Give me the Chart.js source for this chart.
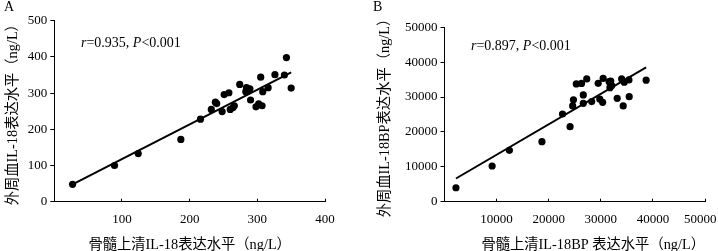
<!DOCTYPE html>
<html>
<head>
<meta charset="utf-8">
<script src="https://cdn.jsdelivr.net/npm/chart.js@4.4.1/dist/chart.umd.min.js"></script>
<style>
  html, body { margin: 0; padding: 0; background: #fff; }
  #wrap { position: relative; width: 718px; height: 251px; }
  #wrap canvas { position: absolute; top: 0; }
</style>
</head>
<body>
<div id="wrap">
  <canvas id="chartA" width="359" height="251" style="left:0"></canvas>
  <canvas id="chartB" width="359" height="251" style="left:359px"></canvas>
</div>
<script>
// panel A : IL-18 (ng/L)
var xA = [27, 89, 124, 187, 216, 232, 238, 240, 248, 251, 258, 260, 264, 266, 274,
          284, 286, 289, 283, 290, 298, 302, 307, 305, 308, 316, 326, 340, 343, 350];
var yA = [48, 100, 133, 172, 228, 255, 275, 271, 249, 296, 301, 255, 260, 265, 324,
          315, 308, 312, 304, 281, 262, 270, 265, 344, 304, 315, 351, 350, 398, 314];

// panel B : IL-18BP (ng/L)
var xB = [2200, 9140, 12450, 18700, 22650, 24100, 24600, 24750, 25300, 26300, 27300,
          26640, 26640, 28250, 29500, 29800, 30350, 30450, 31600, 31900, 31750, 32100,
          33150, 34000, 34500, 34300, 35400, 35450, 38700];
var yB = [4000, 10230, 14720, 17200, 25150, 21510, 27450, 29200, 33760, 33900, 35200,
          30600, 28200, 28700, 33950, 29450, 28500, 35350, 34400, 34600, 32700, 33300,
          29650, 35200, 34250, 27450, 34900, 30100, 34850];

// axis ticks
var xTicksA = [0, 100, 200, 300, 400];
var yTicksA = [0, 100, 200, 300, 400, 500];
var xTicksB = [0, 10000, 20000, 30000, 40000, 50000];
var yTicksB = [0, 10000, 20000, 30000, 40000, 50000];

var labelsA = ['A', 'r', '=0.935, ', 'P', '<0.001'];
var labelsB = ['B', 'r', '=0.897, ', 'P', '<0.001'];

var titleAx = '骨髓上清IL-18表达水平（ng/L）';
var titleAy = '外周血IL-18表达水平（ng/L）';
var titleBx = '骨髓上清IL-18BP 表达水平（ng/L）';
var titleBy = '外周血IL-18BP表达水平（ng/L）';

var FAMILY = '"Liberation Serif", "Times New Roman", "Noto Sans CJK SC", serif';
var tickFont = { family: FAMILY, size: 13 };
var titleFont = { family: FAMILY, size: 14.3 };

// least squares line spanning the data range
function fitLine(xs, ys) {
    var n = xs.length, sx = 0, sy = 0, sxx = 0, sxy = 0;
    for (var i = 0; i < n; i++) {
        sx += xs[i]; sy += ys[i]; sxx += xs[i] * xs[i]; sxy += xs[i] * ys[i];
    }
    var b = (n * sxy - sx * sy) / (n * sxx - sx * sx);
    var a = (sy - b * sx) / n;
    var lo = Math.min.apply(null, xs), hi = Math.max.apply(null, xs);
    return [{ x: lo, y: a + b * lo }, { x: hi, y: a + b * hi }];
}

function toPoints(xs, ys) {
    return xs.map(function (x, i) { return { x: x, y: ys[i] }; });
}

// panel letter + r / P annotation
var notes = {
    id: 'notes',
    afterDraw: function (chart, args, opts) {
        var ctx = chart.ctx;
        ctx.save();
        ctx.fillStyle = '#000';
        ctx.textBaseline = 'middle';
        ctx.font = '14px ' + FAMILY;
        ctx.fillText(opts.parts[0], opts.letterX, opts.letterY);
        var x = opts.statX;
        for (var i = 1; i < opts.parts.length; i++) {
            ctx.font = (i % 2 ? 'italic ' : '') + '14px ' + FAMILY;
            ctx.fillText(opts.parts[i], x, opts.statY);
            x += ctx.measureText(opts.parts[i]).width;
        }
        ctx.restore();
    }
};

function makeChart(el, xs, ys, xTicks, yTicks, parts, tx, ty, box) {
    var xMax = xTicks[xTicks.length - 1];
    return new Chart(el, {
        type: 'scatter',
        data: {
            datasets: [{
                type: 'line',
                data: fitLine(xs, ys),
                borderColor: '#000',
                borderWidth: 2,
                pointRadius: 0,
                fill: false
            }, {
                data: toPoints(xs, ys),
                backgroundColor: '#000',
                borderWidth: 0,
                pointRadius: 3.6
            }]
        },
        options: {
            responsive: false,
            animation: false,
            layout: { padding: { top: box.top, right: box.right, left: 0, bottom: 0 } },
            plugins: {
                legend: { display: false },
                tooltip: { enabled: false },
                notes: { parts: parts, letterX: box.letterX, letterY: box.letterY, statX: box.statX, statY: box.statY }
            },
            scales: {
                x: {
                    type: 'linear',
                    min: xTicks[0], max: xMax,
                    ticks: {
                        stepSize: xTicks[1] - xTicks[0], color: '#000', font: tickFont, padding: 13, maxRotation: 0,
                        callback: function (v) {
                            if (v === 0) return '';
                            // last label nudged left so it stays on the page
                            return v === xMax ? String(v) + box.lastPad : String(v);
                        }
                    },
                    // x ticks point into the plot
                    grid: { drawOnChartArea: false, tickLength: -3, color: '#000' },
                    border: { color: '#000', width: 1 },
                    title: { display: true, text: tx, align: box.xAlign, color: '#000', font: titleFont,
                             padding: { top: 0, bottom: -3 } },
                    afterFit: function (s) {
                        s.height = 251 - box.bottom;
                        s.paddingLeft = 0;
                        s.paddingRight = 0;
                    }
                },
                y: {
                    min: yTicks[0], max: yTicks[yTicks.length - 1],
                    ticks: {
                        stepSize: yTicks[1] - yTicks[0], color: '#000', font: tickFont, padding: 3,
                        callback: function (v) { return String(v); }
                    },
                    grid: { drawOnChartArea: false, tickLength: 4, color: '#000' },
                    border: { color: '#000', width: 1 },
                    title: { display: true, text: ty, color: '#000', font: titleFont,
                             padding: { top: box.yPad, bottom: 0 } },
                    afterFit: function (s) { s.width = box.left; }
                }
            }
        },
        plugins: [notes]
    });
}

var chartA = makeChart(document.getElementById('chartA'), xA, yA, xTicksA, yTicksA, labelsA, titleAx, titleAy,
    { left: 54.3, right: 34, top: 20.7, bottom: 201.7, xAlign: 'center', yPad: 5, lastPad: '',
      letterX: 4, letterY: 7, statX: 81, statY: 43 });

var chartB = makeChart(document.getElementById('chartB'), xB, yB, xTicksB, yTicksB, labelsB, titleBx, titleBy,
    { left: 85.5, right: 13, top: 27.3, bottom: 201.7, xAlign: 'end', yPad: 18, lastPad: '   ',
      letterX: 14, letterY: 7, statX: 112, statY: 46 });
</script>
</body>
</html>
